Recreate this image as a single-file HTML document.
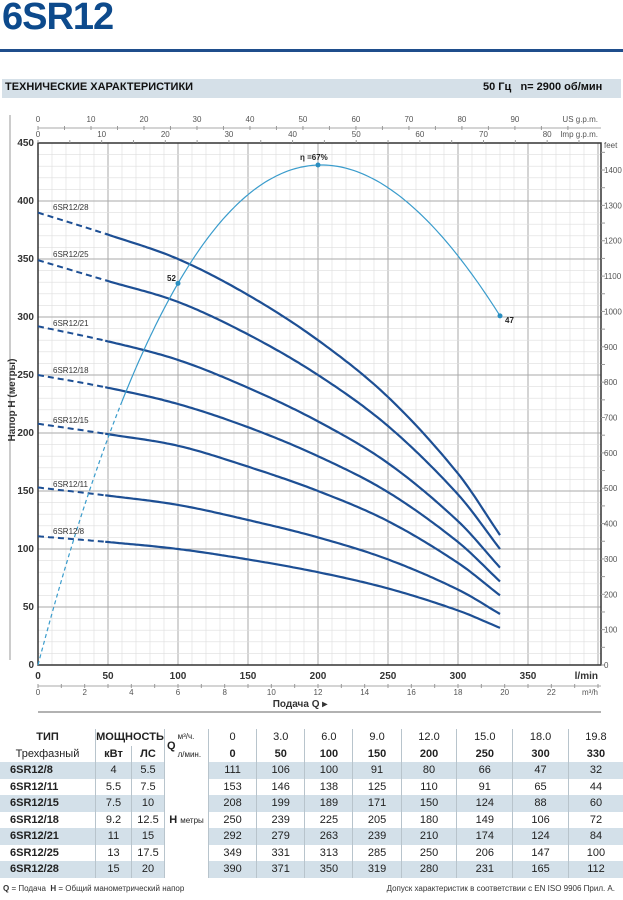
<!DOCTYPE html>
<html><head><meta charset="utf-8"><style>
body{margin:0;width:623px;height:900px;background:#fff;font-family:"Liberation Sans",sans-serif;position:relative;overflow:hidden}
.t{position:absolute;white-space:nowrap}
table{position:absolute;left:0;top:729px;width:623px;border-collapse:collapse;font-size:11px;color:#222}
td{height:16.5px;padding:0;text-align:center;border-right:1px solid #b8c4cc}
tr.s td.v,tr.s td.n{background:#d3e0e9}
td.n{font-weight:bold;text-align:left;padding-left:10px}
</style></head><body>
<div class="t" style="left:2px;top:-4px;font-size:38px;font-weight:bold;color:#0d4a8c;letter-spacing:-1px">6SR12</div>
<div style="position:absolute;left:0;top:49px;width:623px;height:3px;background:#1f4e8c"></div>
<div style="position:absolute;left:2px;top:79px;width:619px;height:19px;background:#d5e0e8"></div>
<div class="t" style="left:5px;top:81px;font-size:11px;font-weight:bold;color:#111">ТЕХНИЧЕСКИЕ ХАРАКТЕРИСТИКИ</div>
<div class="t" style="left:483px;top:81px;font-size:11px;font-weight:bold;color:#111">50 Гц &nbsp;&nbsp;n= 2900 об/мин</div>
<svg id="c" width="623" height="725" style="position:absolute;left:0;top:0" font-family="Liberation Sans,sans-serif">
<line x1="10" y1="115" x2="10" y2="660" stroke="#999" stroke-width="1"/>
<g id="grid"></g>
<rect x="38" y="143" width="563" height="522" fill="none" stroke="#333" stroke-width="1.5"/>
<g id="ax" font-size="8" fill="#555"></g>
<g font-size="10" font-weight="bold" fill="#333">
<text x="34" y="146" text-anchor="end">450</text><text x="34" y="204" text-anchor="end">400</text><text x="34" y="262" text-anchor="end">350</text><text x="34" y="320" text-anchor="end">300</text><text x="34" y="378" text-anchor="end">250</text><text x="34" y="436" text-anchor="end">200</text><text x="34" y="494" text-anchor="end">150</text><text x="34" y="552" text-anchor="end">100</text><text x="34" y="610" text-anchor="end">50</text><text x="34" y="668" text-anchor="end">0</text>
<text x="38" y="679" text-anchor="middle">0</text><text x="108" y="679" text-anchor="middle">50</text><text x="178" y="679" text-anchor="middle">100</text><text x="248" y="679" text-anchor="middle">150</text><text x="318" y="679" text-anchor="middle">200</text><text x="388" y="679" text-anchor="middle">250</text><text x="458" y="679" text-anchor="middle">300</text><text x="528" y="679" text-anchor="middle">350</text><text x="598" y="679" text-anchor="end">l/min</text>
</g>
<text transform="translate(15,400) rotate(-90)" font-size="10" font-weight="bold" fill="#333" text-anchor="middle">Напор H (метры)</text>
<text x="300" y="707" font-size="10" font-weight="bold" fill="#333" text-anchor="middle">Подача Q ▸</text>
<line x1="38" y1="712" x2="601" y2="712" stroke="#999" stroke-width="1.5"/>
<g id="curves"></g>
<g font-size="8" fill="#333">
<text x="53" y="210">6SR12/28</text><text x="53" y="257">6SR12/25</text><text x="53" y="326">6SR12/21</text><text x="53" y="373">6SR12/18</text><text x="53" y="423">6SR12/15</text><text x="53" y="487">6SR12/11</text><text x="53" y="534">6SR12/8</text>
</g>
<g font-size="8" font-weight="bold" fill="#222">
<text x="167" y="281">52</text><text x="300" y="160">η =67%</text><text x="505" y="323">47</text>
</g>
</svg>
<table>
<tr style="font-weight:bold"><td style="width:95px">ТИП</td><td colspan="2" style="width:67px">МОЩНОСТЬ</td><td style="width:43px;font-weight:normal;font-size:8px;text-align:left" rowspan="2"><b style="font-size:11px;float:left;margin:8px 2px 0 2px">Q</b>м³/ч.<br><br>л/мин.</td><td style="font-weight:normal">0</td><td style="font-weight:normal">3.0</td><td style="font-weight:normal">6.0</td><td style="font-weight:normal">9.0</td><td style="font-weight:normal">12.0</td><td style="font-weight:normal">15.0</td><td style="font-weight:normal">18.0</td><td style="font-weight:normal;border-right:0">19.8</td></tr>
<tr style="font-weight:bold"><td style="font-weight:normal">Трехфазный</td><td style="width:35px">кВт</td><td style="width:32px">ЛС</td><td>0</td><td>50</td><td>100</td><td>150</td><td>200</td><td>250</td><td>300</td><td style="border-right:0">330</td></tr>
<tr class="s"><td class="n">6SR12/8</td><td class="v">4</td><td class="v">5.5</td><td rowspan="7" style="background:#fff"><b>H</b> <span style="font-size:8px">метры</span></td><td class="v">111</td><td class="v">106</td><td class="v">100</td><td class="v">91</td><td class="v">80</td><td class="v">66</td><td class="v">47</td><td class="v" style="border-right:0">32</td></tr>
<tr><td class="n">6SR12/11</td><td>5.5</td><td>7.5</td><td>153</td><td>146</td><td>138</td><td>125</td><td>110</td><td>91</td><td>65</td><td style="border-right:0">44</td></tr>
<tr class="s"><td class="n">6SR12/15</td><td class="v">7.5</td><td class="v">10</td><td class="v">208</td><td class="v">199</td><td class="v">189</td><td class="v">171</td><td class="v">150</td><td class="v">124</td><td class="v">88</td><td class="v" style="border-right:0">60</td></tr>
<tr><td class="n">6SR12/18</td><td>9.2</td><td>12.5</td><td>250</td><td>239</td><td>225</td><td>205</td><td>180</td><td>149</td><td>106</td><td style="border-right:0">72</td></tr>
<tr class="s"><td class="n">6SR12/21</td><td class="v">11</td><td class="v">15</td><td class="v">292</td><td class="v">279</td><td class="v">263</td><td class="v">239</td><td class="v">210</td><td class="v">174</td><td class="v">124</td><td class="v" style="border-right:0">84</td></tr>
<tr><td class="n">6SR12/25</td><td>13</td><td>17.5</td><td>349</td><td>331</td><td>313</td><td>285</td><td>250</td><td>206</td><td>147</td><td style="border-right:0">100</td></tr>
<tr class="s"><td class="n">6SR12/28</td><td class="v">15</td><td class="v">20</td><td class="v">390</td><td class="v">371</td><td class="v">350</td><td class="v">319</td><td class="v">280</td><td class="v">231</td><td class="v">165</td><td class="v" style="border-right:0">112</td></tr>
</table>
<div class="t" style="left:3px;top:884px;font-size:8px;color:#333"><b>Q</b> = Подача &nbsp;<b>H</b> = Общий манометрический напор</div>
<div class="t" style="right:8px;top:884px;font-size:8px;color:#333">Допуск характеристик в соответствии с EN ISO 9906 Прил. А.</div>
<script>
var NS="http://www.w3.org/2000/svg";
function el(p,t,a){var e=document.createElementNS(NS,t);for(var k in a)e.setAttribute(k,a[k]);document.getElementById(p).appendChild(e);return e;}
var X=function(q){return 38+1.4*q},Y=function(h){return 665-1.16*h};
for(var q=10;q<402;q+=10)el("grid","line",{x1:X(q),y1:143,x2:X(q),y2:665,stroke:q%50?"#ddd":"#aaa","stroke-width":q%50?0.6:1});
for(var h=10;h<450;h+=10)el("grid","line",{x1:38,y1:Y(h),x2:601,y2:Y(h),stroke:h%50?"#ddd":"#aaa","stroke-width":h%50?0.6:1});
function lab(x,y,s,anchor){var t=el("ax","text",{x:x,y:y,"text-anchor":anchor||"middle"});t.textContent=s;}
el("ax","line",{x1:38,y1:128,x2:601,y2:128,stroke:"#aaa"});
for(var g=0;g<=100;g+=5){var x=X(g*3.785);if(x>598)break;el("ax","line",{x1:x,y1:126,x2:x,y2:130,stroke:"#999"});if(g%10==0&&g<=90)lab(x,122,g);}
lab(598,122,"US g.p.m.","end");
for(var g=0;g<=85;g+=5){var x=X(g*4.546);el("ax","line",{x1:x,y1:140,x2:x,y2:143,stroke:"#999"});if(g%10==0&&g<=80)lab(x,137,g);}
lab(598,137,"Imp g.p.m.","end");
el("ax","line",{x1:38,y1:686,x2:601,y2:686,stroke:"#aaa"});
for(var m=0;m<=24;m+=1){var x=X(m*16.667);if(x>601)break;el("ax","line",{x1:x,y1:684,x2:x,y2:688,stroke:"#999"});if(m%2==0&&m<=22)lab(x,695,m);}
lab(598,695,"m³/h","end");
for(var f=0;f<=1450;f+=50){var y=Y(f/3.281);if(y<143)break;el("ax","line",{x1:601,y1:y,x2:605,y2:y,stroke:"#999"});if(f%100==0)lab(604,y+3,f,"start");}
lab(604,148,"feet","start");
var Q=[0,50,100,150,200,250,300,330];
var D=[[111,106,100,91,80,66,47,32],[153,146,138,125,110,91,65,44],[208,199,189,171,150,124,88,60],[250,239,225,205,180,149,106,72],[292,279,263,239,210,174,124,84],[349,331,313,285,250,206,147,100],[390,371,350,319,280,231,165,112]];
function interp(H,q){var i=0;while(i<Q.length-2&&q>Q[i+1])i++;var p0=i>0?i-1:i,p3=i+2<Q.length?i+2:i+1;
var t=(q-Q[i])/(Q[i+1]-Q[i]);var h1=Q[i+1]-Q[i];
var m1=(H[i+1]-H[p0])/(Q[i+1]-Q[p0])*h1,m2=(H[p3]-H[i])/(Q[p3]-Q[i])*h1;
var t2=t*t,t3=t2*t;return (2*t3-3*t2+1)*H[i]+(t3-2*t2+t)*m1+(-2*t3+3*t2)*H[i+1]+(t3-t2)*m2;}
function pts(f,a,b){var s="";for(var q=a;q<=b+0.01;q+=2){s+=(s?"L":"M")+X(q).toFixed(1)+","+Y(f(q)).toFixed(1);}return s;}
D.forEach(function(H){var f=function(q){return interp(H,q)};
el("curves","path",{d:pts(f,0,48),fill:"none",stroke:"#1d4f94","stroke-width":2,"stroke-dasharray":"6,4"});
el("curves","path",{d:pts(f,48,330),fill:"none",stroke:"#1d4f94","stroke-width":2.2});});
var E=function(q){return 4.5806*q-0.013684*q*q+7.78e-6*q*q*q};
el("curves","path",{d:pts(E,0,60),fill:"none",stroke:"#3a9ccc","stroke-width":1.2,"stroke-dasharray":"4,3"});
el("curves","path",{d:pts(E,60,330),fill:"none",stroke:"#3a9ccc","stroke-width":1.2});
[[100],[200],[330]].forEach(function(p){el("curves","circle",{cx:X(p[0]),cy:Y(E(p[0])),r:2.5,fill:"#2a8ec0"});});
</script>
</body></html>
